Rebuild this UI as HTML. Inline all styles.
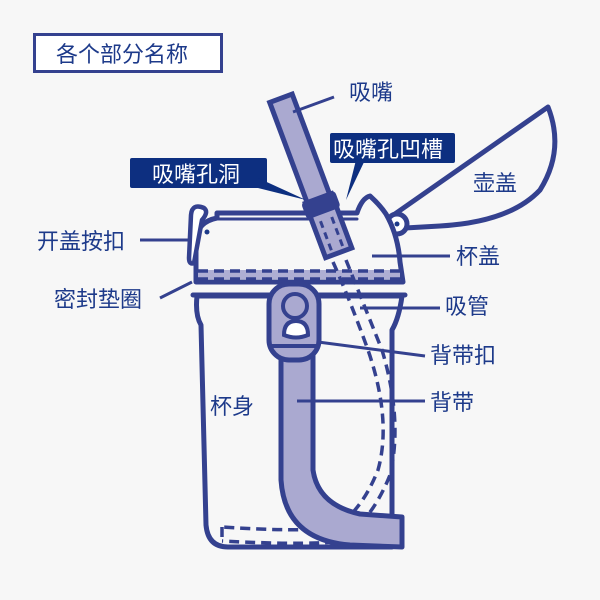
<!DOCTYPE html>
<html><head><meta charset="utf-8"><style>
html,body{margin:0;padding:0;background:#f7f7f7}
svg{display:block}
text{font-family:"Liberation Sans","Noto Sans CJK SC",sans-serif;font-size:22px;fill:#1d3a8a}
</style></head><body>
<svg width="600" height="600" viewBox="0 0 600 600" xmlns="http://www.w3.org/2000/svg">
<rect width="600" height="600" fill="#f7f7f7"/>
<rect x="34.5" y="34.5" width="187" height="37" fill="#fff" stroke="#34418f" stroke-width="3"/>
<text x="56" y="62">各个部分名称</text>

<g stroke="#34418f" stroke-width="5" stroke-linejoin="round" stroke-linecap="round" fill="none">
<path d="M392,216 L548,107 Q565,150 540,190 Q510,222 440,226 L405,228" fill="#f7f7f7"/>
<circle cx="397" cy="224" r="10" fill="#fff"/>
<path d="M197,296 Q195,315 201,325 L206,525 Q208,547 228,547 L392,547 L392,330 Q399,318 402,296 Z" fill="#f7f7f7"/>
<path d="M196,282 L196,240 Q197,222 217,218 L217,213 L357,213 Q362,198 370,196 Q380,205 386,214 Q398,235 400,262 L403,282 Z" fill="#f7f7f7"/>
<line x1="193" y1="295" x2="405" y2="295"/>
<line x1="217" y1="219" x2="357" y2="219" stroke-width="3"/>
</g>
<circle cx="397" cy="224" r="2.5" fill="#1d3a8a"/>
<rect x="198" y="270" width="202" height="9" fill="#aeaed3"/>
<g stroke="#34418f" stroke-width="3.5" stroke-dasharray="10,6" fill="none">
<line x1="198" y1="271" x2="400" y2="271"/>
<line x1="198" y1="279" x2="400" y2="279"/>
</g>
<path d="M204,208 Q192,203 191,215 L189,258 Q189,265 194,263 L202,220 Q209,212 204,208 Z" fill="#fff" stroke="#34418f" stroke-width="4.5" stroke-linejoin="round"/>
<circle cx="207" cy="232" r="2.5" fill="#1d3a8a"/>
<g stroke="#34418f" stroke-width="3.5" stroke-dasharray="10,6" fill="none">
<path d="M333,262 Q350,300 368,350 Q392,420 378,470 Q360,515 330,530"/>
<path d="M346,260 Q362,300 382,350 Q403,420 390,475 Q370,525 335,543"/>
<path d="M330,528 Q300,532 222,527"/>
<path d="M335,542 Q300,545 222,541"/>
<line x1="222" y1="527" x2="222" y2="541"/>
</g>
<path d="M281,350 L281,480 Q285,540 350,545 L402,547 L402,517 L360,514 Q318,505 313,470 L313,350 Z" fill="#aaa9d0" stroke="#34418f" stroke-width="5" stroke-linejoin="round"/>
<rect x="269" y="284" width="50" height="76" rx="20" fill="#aaa9d0" stroke="#34418f" stroke-width="5"/>
<circle cx="295" cy="306" r="12" fill="#aaa9d0" stroke="#34418f" stroke-width="4"/>
<path d="M284,335 Q284,321 296,321 Q308,321 308,335 Q296,340 284,335 Z" fill="#fff" stroke="#34418f" stroke-width="4"/>
<line x1="271" y1="346" x2="317" y2="346" stroke="#34418f" stroke-width="4"/>
<g transform="rotate(-20.5 310 176)">
<rect x="298" y="93" width="24" height="115" fill="#aaa9d0" stroke="#34418f" stroke-width="5"/>
<rect x="296" y="200" width="28" height="58" fill="#aaa9d0" stroke="#34418f" stroke-width="5"/>
<rect x="292" y="198" width="36" height="18" rx="4" fill="#34418f"/>
<line x1="304" y1="222" x2="304" y2="256" stroke="#34418f" stroke-width="3" stroke-dasharray="7,5"/>
<line x1="316" y1="222" x2="316" y2="256" stroke="#34418f" stroke-width="3" stroke-dasharray="7,5"/>
</g>
<g stroke="#34418f" stroke-width="3">
<line x1="293" y1="112" x2="334" y2="97"/>
<line x1="140" y1="240" x2="190" y2="240"/>
<line x1="160" y1="298" x2="192" y2="282"/>
<line x1="372" y1="256" x2="450" y2="256"/>
<line x1="360" y1="308" x2="440" y2="308"/>
<line x1="318" y1="342" x2="425" y2="356"/>
<line x1="297" y1="401" x2="425" y2="401"/>
</g>
<rect x="130" y="158" width="137" height="30" rx="2" fill="#0d2f80"/>
<polygon points="258,178 258,188 306,200" fill="#0d2f80"/>
<text x="152" y="182" style="fill:#fff">吸嘴孔洞</text>
<rect x="330" y="133" width="125" height="30" rx="2" fill="#0d2f80"/>
<polygon points="365,160 356,160 346,200" fill="#0d2f80"/>
<text x="333" y="157" style="fill:#fff">吸嘴孔凹槽</text>
<text x="349" y="100">吸嘴</text>
<text x="473" y="191">壶盖</text>
<text x="456" y="264">杯盖</text>
<text x="37" y="249">开盖按扣</text>
<text x="54" y="307">密封垫圈</text>
<text x="445" y="314">吸管</text>
<text x="430" y="363">背带扣</text>
<text x="430" y="410">背带</text>
<text x="210" y="414">杯身</text>
</svg>
</body></html>
